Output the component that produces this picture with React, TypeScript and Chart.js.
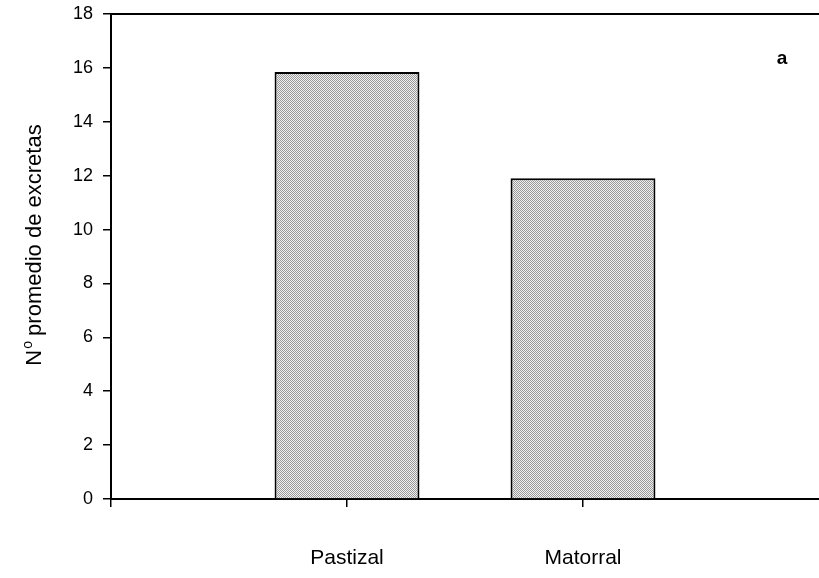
import React, { useEffect, useRef } from "react";
import { Chart, registerables } from "chart.js";

Chart.register(...registerables);

const categories = ["", "Pastizal", "Matorral", ""];
const excretas = [null, 15.85, 11.9, null];
const yTicks = [0, 2, 4, 6, 8, 10, 12, 14, 16, 18];
const yTitleMain = "N";
const yTitleSup = "o";
const yTitleRest = " promedio de excretas";
const panelLabel = "a";

const FONT = "'Liberation Sans', Arial, Helvetica, sans-serif";

function makePattern(): CanvasPattern | string {
  const c = document.createElement("canvas");
  c.width = 4;
  c.height = 4;
  const g = c.getContext("2d");
  if (!g) return "#c4c4c4";
  g.fillStyle = "#f0f0f0";
  g.fillRect(0, 0, 4, 4);
  g.fillStyle = "#999999";
  const dots = [
    [0, 0], [2, 0], [1, 1], [3, 1], [0, 2], [2, 2], [1, 3], [3, 3],
  ];
  dots.forEach(([x, y]) => g.fillRect(x, y, 1, 1));
  const p = g.createPattern(c, "repeat");
  return p || "#c4c4c4";
}

const decorPlugin = {
  id: "decor",
  afterDraw(chart: any) {
    const { ctx, chartArea } = chart;
    ctx.save();
    // top frame line
    ctx.strokeStyle = "#000";
    ctx.lineWidth = 2;
    ctx.beginPath();
    ctx.moveTo(chartArea.left, chartArea.top);
    ctx.lineTo(chartArea.right, chartArea.top);
    ctx.stroke();

    // panel label
    ctx.fillStyle = "#000";
    ctx.font = `bold 19px ${FONT}`;
    ctx.textAlign = "center";
    ctx.textBaseline = "alphabetic";
    ctx.fillText(panelLabel, 782, 64);

    // y axis title with superscript
    const bigFont = `22px ${FONT}`;
    const smallFont = `14px ${FONT}`;
    ctx.font = bigFont;
    const wN = ctx.measureText(yTitleMain).width;
    const wRest = ctx.measureText(yTitleRest).width;
    ctx.font = smallFont;
    const wSup = ctx.measureText(yTitleSup).width;
    const total = wN + wSup + wRest;
    const cy = 245;
    ctx.translate(41, cy);
    ctx.rotate(-Math.PI / 2);
    ctx.textAlign = "left";
    let x = -total / 2;
    ctx.font = bigFont;
    ctx.fillText(yTitleMain, x, 0);
    x += wN;
    ctx.font = smallFont;
    ctx.fillText(yTitleSup, x + 1, -9);
    x += wSup;
    ctx.font = bigFont;
    ctx.fillText(yTitleRest, x, 0);
    ctx.restore();
  },
};

export default function App() {
  const ref = useRef<HTMLCanvasElement | null>(null);

  useEffect(() => {
    if (!ref.current) return;
    const chart = new Chart(ref.current, {
      type: "bar",
      data: {
        labels: categories,
        datasets: [
          {
            data: excretas as any,
            backgroundColor: makePattern() as any,
            borderColor: "#000",
            borderWidth: 2,
            borderSkipped: "bottom",
            categoryPercentage: 1,
            barPercentage: 0.614,
          },
        ],
      },
      options: {
        responsive: false,
        animation: false,
        devicePixelRatio: 1,
        layout: { padding: { top: 14, right: 0, bottom: 0, left: 0 } },
        plugins: {
          legend: { display: false },
          tooltip: { enabled: false },
          title: { display: false },
        },
        scales: {
          x: {
            type: "category",
            offset: false,
            afterFit: (s: any) => {
              s.height = 79;
              s.paddingLeft = 0;
              s.paddingRight = 0;
            },
            grid: {
              offset: false,
              drawOnChartArea: false,
              drawTicks: true,
              tickLength: 8,
              lineWidth: 1.5,
              color: (c: any) => (c.index === 3 ? "rgba(0,0,0,0)" : "#000"),
            },
            border: { display: true, color: "#000", width: 2 },
            ticks: {
              color: "#000",
              padding: 39,
              maxRotation: 0,
              autoSkip: false,
              font: { family: FONT, size: 21 },
            },
          },
          y: {
            type: "linear",
            min: 0,
            max: 18,
            afterFit: (s: any) => {
              s.width = 111;
              s.paddingTop = 0;
              s.paddingBottom = 0;
            },
            afterBuildTicks: (s: any) => {
              s.ticks = yTicks.map((v) => ({ value: v }));
            },
            grid: {
              drawOnChartArea: false,
              drawTicks: true,
              tickLength: 8,
              lineWidth: 1.5,
              color: "#000",
            },
            border: { display: true, color: "#000", width: 2 },
            ticks: {
              color: "#000",
              padding: 10,
              font: { family: FONT, size: 18 },
            },
          },
        },
      },
      plugins: [decorPlugin],
    });
    return () => chart.destroy();
  }, []);

  return (
    <div
      style={{
        position: "absolute",
        left: 0,
        top: 0,
        width: 819,
        height: 578,
        background: "#fff",
      }}
    >
      <canvas ref={ref} width={819} height={578} style={{ display: "block" }} />
    </div>
  );
}
